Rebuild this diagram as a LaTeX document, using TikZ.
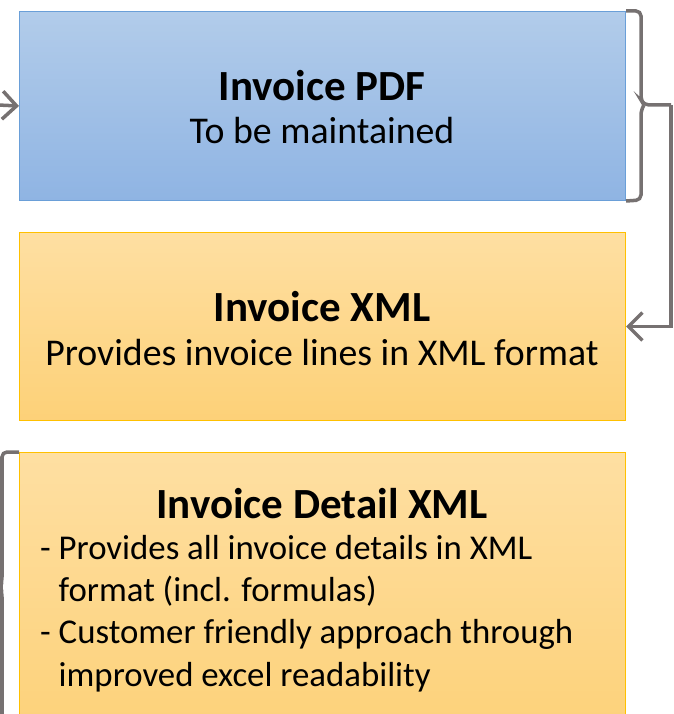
\documentclass[tikz,border=0pt]{standalone}
\usepackage{fontspec}
\setmainfont{Carlito}
\usetikzlibrary{arrows.meta}
\definecolor{bluetop}{RGB}{178,204,234}
\definecolor{bluebot}{RGB}{143,180,227}
\definecolor{blueedge}{RGB}{106,159,216}
\definecolor{ortop}{RGB}{254,223,162}
\definecolor{orbot}{RGB}{253,209,120}
\definecolor{oredge}{RGB}{255,192,0}
\definecolor{conn}{RGB}{118,113,113}
\tikzset{
  boxbase/.style={draw, line width=1pt, minimum width=606pt, inner sep=0pt, anchor=north west},
  bluebox/.style={boxbase, draw=blueedge, top color=bluetop, bottom color=bluebot},
  orbox/.style={boxbase, draw=oredge, top color=ortop, bottom color=orbot},
  conline/.style={draw=conn, line width=3.5pt},
  tip/.style={-{Straight Barb[length=14pt,width=28pt,line width=3.5pt]}},
  ttl/.style={font=\fontsize{43}{50}\selectfont\bfseries},
  body/.style={font=\fontsize{37.8}{45}\selectfont},
  bodysm/.style={font=\fontsize{34.8}{42.3}\selectfont},
}
\begin{document}
\begin{tikzpicture}[x=1pt,y=-1pt]
\useasboundingbox (0,0) rectangle (673,714);
\clip (0,0) rectangle (673,714);
\node[bluebox, minimum height=189pt] (pdf) at (19,11) {};
\node[orbox, minimum height=188pt] (xml) at (19,232) {};
\node[orbox, minimum height=290pt] (det) at (19,452) {};
% texts
\node[ttl] (t1) at (322,86) {Invoice PDF};
\node[body] (s1) at (322,131) {To be maintained};
\node[ttl] (t2) at (322,307) {Invoice XML};
\node[body] (s2) at (322,353) {Provides invoice lines in XML format};
\node[ttl] (t3) at (322,504) {Invoice Detail XML};
\node[bodysm, anchor=west, align=left, inner sep=0pt] (s3) at (40,613.5)
 {- Provides all invoice details in XML\\
 \hphantom{- }format (incl. formulas)\\
 - Customer friendly approach through\\
 \hphantom{- }improved excel readability};
% left incoming arrow
\coordinate (in) at (-2,105);
\draw[conline, tip] (in) -- (pdf.west);
% right brace and arrow
\coordinate (rbo) at (671,105);
\draw[conline, rounded corners=5pt] (pdf.north east) -- (641,11) -- (641,100) -- (644,105) -- (rbo);
\draw[conline, rounded corners=5pt] (pdf.south east) -- (641,200) -- (641,110) -- (644,105);
\draw[conline, tip] (rbo) |- (xml.east);
% left brace
\draw[conline, rounded corners=5pt] (det.north west) -- (2,452) -- (2,582) -- (0,587) -- (2,592) -- (2,720);
\end{tikzpicture}
\end{document}
